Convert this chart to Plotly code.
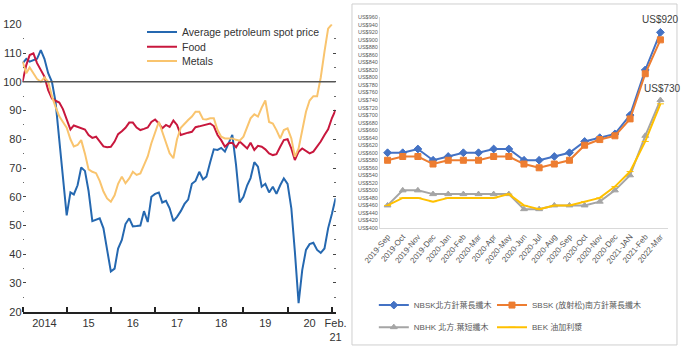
import plotly.graph_objects as go
import pandas as pd

# ---------------- Left chart data (monthly, Jan 2014 .. Feb 2021) ----------------
start_month = "2014-01-01"
petroleum = [106.4, 108, 107, 107.5, 108, 111, 108, 103, 100, 93, 79, 65,
             53.5, 61.5, 60.8, 64, 70.2, 69, 62, 51.5, 52, 52.5, 49, 41,
             34, 35, 42, 45, 50.5, 52.5, 49.7, 49.8, 50, 55, 51.2, 60,
             61, 61.5, 58, 58.6, 56, 51.5, 53, 55, 57.5, 59, 64.5, 65.5,
             68.7, 66, 67, 72, 76.5, 76.3, 77, 75.7, 78.6, 81.5, 71, 58,
             60, 64, 66.5, 72, 70.5, 63.5, 64.5, 61.5, 63.5, 61, 64, 66.4,
             64.5, 56, 41, 23, 34.5, 41.5, 43.5, 44, 41.5, 40.5, 42, 49,
             54, 59.5]
food = [100, 105.8, 109.3, 109.9, 106.5, 104, 101.8, 97.1, 94.2, 93.4, 92.8, 90.5,
        87, 83.4, 84.8, 84.3, 84, 83.4, 81.5, 80.5, 80.9, 79, 77.5, 77.2,
        77.4, 79.2, 81.8, 82.8, 84, 85.8, 85.8, 84.1, 83.2, 83.6, 84.1, 86,
        86.9, 85.5, 83.8, 85, 84.3, 86.5, 85, 81.5, 82, 82.3, 82.6, 84.2,
        84.5, 84.8, 85.2, 85.5, 84.6, 81.5, 79.7, 77.4, 78.6, 78.8, 77.2, 79.2,
        78, 76.8, 78.8, 76.3, 77.7, 77.4, 76.5, 75.1, 74.5, 74.8, 77.4, 79.7,
        80, 76.8, 72.8, 75.7, 76.8, 76, 75.1, 75.7, 77.5, 79.2, 81.5, 83.5,
        87.3, 90.2]
metals = [107, 103, 105, 103, 101, 100, 101.5, 100, 95, 91.3, 88, 86,
          84, 80, 77.5, 78, 79.7, 75, 69.5, 68.7, 68.2, 65.5, 61.8, 59.4,
          58.3, 60.5, 64.5, 67, 64.7, 66.4, 68.7, 67.6, 68.1, 71, 74, 78.6,
          82.1, 86.1, 82.6, 78.6, 75.1, 73.4, 80, 84, 85.5, 86.7, 87.9, 89.6,
          89.6, 87, 86.9, 87.3, 87.3, 83.2, 80.9, 80.3, 80.3, 80.3, 79.8, 79.5,
          80.9, 84.4, 87.3, 88.7, 87.9, 91, 93.5, 86, 85.5, 83.2, 80.3, 83.2,
          83.8, 80.3, 73.9, 76.8, 82.6, 89.6, 93.5, 95, 95, 101.5, 110.5, 118.5,
          120]
left_names = ["Average petroleum spot price", "Food", "Metals"]
left_year_ticks = ["2014-07-01", "2015-07-01", "2016-07-01", "2017-07-01",
                   "2018-07-01", "2019-07-01", "2020-07-01", "2021-02-01"]
left_year_labels = ["2014", "15", "16", "17", "18", "19", "20", "Feb.<br>21"]
left_year_bounds = ["2014-01-01", "2015-01-01", "2016-01-01", "2017-01-01",
                    "2018-01-01", "2019-01-01", "2020-01-01", "2021-01-01"]
ref_level = 100

# ---------------- Right chart data ----------------
pulp_months = ["2019-Sep", "2019-Oct", "2019-Nov", "2019-Dec", "2020-Jan", "2020-Feb",
               "2020-Mar", "2020-Apr", "2020-May", "2020-Jun", "2020-Jul", "2020-Aug",
               "2020-Sep", "2020-Oct", "2020-Nov", "2020-Dec", "2021-JAN", "2021-Feb",
               "2022-Mar"]
nbsk = [600, 600, 610, 580, 590, 600, 600, 610, 610, 580, 580, 590, 600, 630, 640, 650, 700, 820, 920]
sbsk = [580, 590, 590, 570, 580, 580, 580, 590, 590, 570, 560, 570, 580, 620, 635, 645, 690, 810, 900]
nbhk = [460, 500, 500, 490, 490, 490, 490, 490, 490, 450, 450, 460, 460, 460, 470, 500, 540, 645, 740]
bek = [460, 480, 480, 470, 480, 480, 480, 480, 490, 460, 450, 460, 460, 470, 480, 510, 550, 630, 730]
right_names = ["NBSK北方針葉長纖木", "SBSK (放射松)南方針葉長纖木", "NBHK 北方.葉短纖木", "BEK 油加利漿"]
price_ticks = list(range(400, 961, 20))
price_labels = [f"US${v}" for v in price_ticks]
end_labels = ["US$920", "US$730"]

dates = pd.date_range(start_month, periods=len(petroleum), freq="MS")

SANS = "Liberation Sans Narrow, Liberation Sans, Arial, sans-serif"
CJK = "Liberation Sans Narrow, Liberation Sans, Noto Sans CJK TC, sans-serif"

fig = go.Figure()

left_colors = ["#2568b0", "#c8173d", "#f9c46e"]
left_legends = ["legend", "legend4", "legend5"]
for name, vals, col, lg in zip(left_names, [petroleum, food, metals], left_colors, left_legends):
    fig.add_trace(go.Scatter(x=dates, y=vals, name=name, mode="lines",
                             line=dict(color=col, width=2),
                             xaxis="x", yaxis="y", legend=lg))

right_specs = [
    (nbsk, "#4472c4", "diamond", 6, "legend2"),
    (sbsk, "#ed7d31", "square", 6, "legend3"),
    (nbhk, "#a5a5a5", "triangle-up", 6, "legend6"),
    (bek, "#ffc000", "line-ew", 5, "legend7"),
]
for name, (vals, col, sym, sz, lg) in zip(right_names, right_specs):
    fig.add_trace(go.Scatter(x=pulp_months, y=vals, name=name, mode="lines+markers",
                             line=dict(color=col, width=2),
                             marker=dict(symbol=sym, size=sz, color=col,
                                         line=dict(color=col, width=1)),
                             xaxis="x2", yaxis="y2", legend=lg))


def leg(x, y, size, color, family):
    return dict(x=x, y=y, xanchor="left", yanchor="middle", bgcolor="rgba(0,0,0,0)",
                borderwidth=0, font=dict(family=family, size=size, color=color))


fig.update_layout(
    width=691, height=356,
    margin=dict(l=0, r=0, t=0, b=0),
    paper_bgcolor="white", plot_bgcolor="white",
    showlegend=True,
    xaxis=dict(domain=[0.0326, 0.4857], type="date", automargin=False,
               range=[dates[0], dates[-1]],
               tickmode="array", tickvals=left_year_ticks, ticktext=left_year_labels,
               ticks="", showgrid=False, zeroline=False,
               showline=True, linecolor="#222", linewidth=1.5,
               minor=dict(tickmode="array", tickvals=left_year_bounds, ticks="inside",
                          ticklen=5, tickwidth=1.5, tickcolor="#222", showgrid=False),
               tickfont=dict(family=SANS, size=11, color="#333"),
               anchor="y"),
    yaxis=dict(domain=[0.1244, 0.9317], range=[20, 120], automargin=False,
               tickmode="array", tickvals=list(range(20, 121, 10)),
               ticks="inside", ticklen=3, tickwidth=1, tickcolor="#444",
               minor=dict(dtick=5, ticks="inside", ticklen=1.5, tickwidth=1, tickcolor="#666",
                          showgrid=False),
               mirror="ticks", showline=False, showgrid=False, zeroline=False,
               tickfont=dict(family=SANS, size=11, color="#333"),
               anchor="x"),
    xaxis2=dict(domain=[0.5499, 0.9667], type="category", range=[-0.5, 18.5],
                automargin=False,
                showline=True, linecolor="#d9d9d9", linewidth=1, ticks="",
                showgrid=False, zeroline=False, tickangle=-50,
                tickfont=dict(family=SANS, size=8, color="#595959"),
                anchor="y2"),
    yaxis2=dict(domain=[0.3596, 0.9514], range=[400, 960], automargin=False,
                tickmode="array", tickvals=price_ticks, ticktext=price_labels,
                showline=True, linecolor="#d9d9d9", linewidth=1, ticks="",
                showgrid=False, zeroline=False,
                tickfont=dict(family=SANS, size=5.5, color="#595959"),
                anchor="x2"),
    legend=leg(0.2055, 0.910, 10.5, "#333", SANS),
    legend4=leg(0.2055, 0.869, 10.5, "#333", SANS),
    legend5=leg(0.2055, 0.829, 10.5, "#333", SANS),
    legend2=leg(0.541, 0.143, 8, "#595959", CJK),
    legend3=leg(0.712, 0.143, 8, "#595959", CJK),
    legend6=leg(0.541, 0.081, 8, "#595959", CJK),
    legend7=leg(0.712, 0.081, 8, "#595959", CJK),
    shapes=[
        dict(type="line", xref="x domain", x0=0, x1=1, yref="y", y0=ref_level, y1=ref_level,
             line=dict(color="#555", width=1.5)),
        dict(type="rect", xref="paper", yref="paper", x0=0.5094, x1=0.9797, y0=0.031, y1=0.9888,
             line=dict(color="#cfcfcf", width=1), fillcolor="rgba(0,0,0,0)"),
    ],
    annotations=[
        dict(x=pulp_months[-1], y=nbsk[-1], xref="x2", yref="y2", text=end_labels[0],
             showarrow=False, yshift=13, xshift=0,
             font=dict(family=SANS, size=10, color="#404040")),
        dict(x=pulp_months[-1], y=bek[-1], xref="x2", yref="y2", text=end_labels[1],
             showarrow=False, yshift=15, xshift=2,
             font=dict(family=SANS, size=10, color="#404040")),
    ],
)

fig.write_html("out.html", config={"displayModeBar": False},
               post_script="document.body.style.margin='0';document.body.style.padding='0';")
